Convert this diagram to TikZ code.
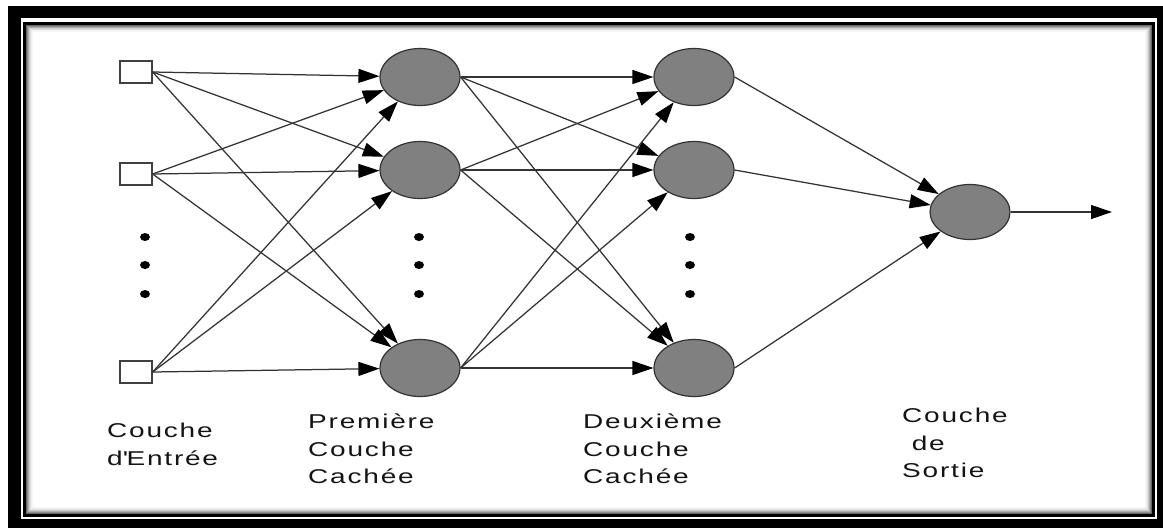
\documentclass[tikz,border=0pt]{standalone}
\usepackage{fontspec}
\setmainfont{Liberation Sans}[FakeStretch=1.4, LetterSpace=9]
\usetikzlibrary{arrows.meta,shapes.geometric}
\begin{document}
\begin{tikzpicture}[x=1pt,y=-1pt,
  conn/.style={draw=black!80, line width=1.25pt, -{Triangle[length=21pt,width=14pt,color=black]}},
  inp/.style={draw=black!75, fill=white, line width=1.3pt, minimum width=32pt, minimum height=22pt, inner sep=0pt},
  neur/.style={ellipse, draw=black!80, fill=black!50, line width=1.2pt, minimum width=80pt, minimum height=57pt, inner sep=0pt},
  dotn/.style={ellipse, fill=black, minimum width=10pt, minimum height=8pt, inner sep=0pt},
  lbl/.style={anchor=north west, align=left, font=\fontsize{20}{27.5}\selectfont, text=black!92, inner sep=0pt}]
\useasboundingbox (0,0) rectangle (1163,528);
% frame
\fill[white] (0,0) rectangle (1163,528);
\fill[black] (8,6) rectangle (1163,528);
\fill[white] (21,18) rectangle (1157,519);
\draw[black, line width=3pt] (24.5,23) rectangle (1153.5,515);
\foreach \i/\c in {1/60,2/45,3/32,4/20,5/12,6/6,7/3}
  \draw[black!\c, line width=1pt] (25.5+\i,24+\i) rectangle (1152.5-\i,514-\i);
% nodes
\node[inp] (i1) at (136,72) {};
\node[inp] (i2) at (136,174) {};
\node[inp] (i3) at (136,372) {};
\node[neur] (h1a) at (420,77) {};
\node[neur] (h1b) at (420,170) {};
\node[neur] (h1c) at (420,368) {};
\node[neur] (h2a) at (694,77) {};
\node[neur] (h2b) at (694,170) {};
\node[neur] (h2c) at (694,368) {};
\node[neur, minimum height=55pt] (o) at (970,212) {};
\coordinate (out) at (1112,212);
% dots
\node[dotn] (d1a) at (145,237) {};
\node[dotn] (d1b) at (145,265) {};
\node[dotn] (d1c) at (145,294) {};
\node[dotn] (d2a) at (419,237) {};
\node[dotn] (d2b) at (419,265) {};
\node[dotn] (d2c) at (419,294) {};
\node[dotn] (d3a) at (690,237) {};
\node[dotn] (d3b) at (690,265) {};
\node[dotn] (d3c) at (690,294) {};
% connectors
\foreach \s in {i1,i2,i3}
  \foreach \t in {h1a,h1b,h1c}
    \draw[conn] (\s.east) -- (\t);
\foreach \s in {h1a,h1b,h1c}
  \foreach \t in {h2a,h2b,h2c}
    \draw[conn] (\s.east) -- (\t);
\foreach \s in {h2a,h2b,h2c}
  \draw[conn] (\s.east) -- (o);
\draw[conn] (o.east) -- (out);
% labels
\node[lbl] (l1) at (107,423) {Couche\\d\textquotesingle Entrée};
\node[lbl] (l2) at (308,414) {Première\\Couche\\Cachée};
\node[lbl] (l3) at (583,414) {Deuxième\\Couche\\Cachée};
\node[lbl] (l4) at (902,408) {Couche\\\ de\\Sortie};
\end{tikzpicture}
\end{document}
